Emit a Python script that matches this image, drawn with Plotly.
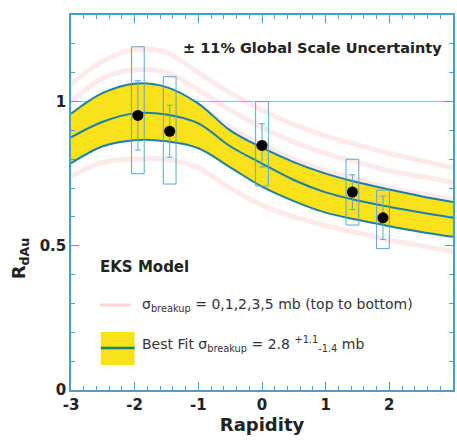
import plotly.graph_objects as go

# ---- data ----
rap = [-1.95, -1.45, 0.0, 1.42, 1.9]
rdau = [0.952, 0.897, 0.848, 0.686, 0.597]
stat_err = [0.12, 0.09, 0.075, 0.06, 0.075]
sys_hi = [1.19, 1.086, 1.0, 0.80, 0.693]
sys_lo = [0.75, 0.714, 0.707, 0.572, 0.49]
box_half = 0.1

band_x = [-3, -2.5, -2, -1.5, -1, -0.5, 0, 0.5, 1, 1.5, 2, 2.5, 3]
band_center = [0.876, 0.93, 0.959, 0.955, 0.924, 0.845, 0.785, 0.728, 0.685, 0.657, 0.635, 0.615, 0.597]
band_upper = [0.958, 1.03, 1.062, 1.05, 0.993, 0.90, 0.84, 0.79, 0.75, 0.72, 0.695, 0.672, 0.652]
band_lower = [0.786, 0.845, 0.866, 0.862, 0.838, 0.772, 0.705, 0.655, 0.615, 0.59, 0.568, 0.548, 0.531]

sigma_labels = ["0 mb", "1 mb", "2 mb", "3 mb", "5 mb"]
sigma_curves = [
    [1.06, 1.14, 1.18, 1.17, 1.10, 1.03, 0.97, 0.92, 0.88, 0.85, 0.82, 0.795, 0.77],
    [1.00, 1.08, 1.11, 1.10, 1.04, 0.97, 0.91, 0.86, 0.82, 0.79, 0.76, 0.74, 0.72],
    [0.94, 1.01, 1.03, 1.02, 0.98, 0.91, 0.85, 0.80, 0.76, 0.73, 0.70, 0.68, 0.66],
    [0.86, 0.92, 0.94, 0.935, 0.90, 0.83, 0.77, 0.72, 0.68, 0.65, 0.63, 0.61, 0.59],
    [0.74, 0.79, 0.80, 0.80, 0.77, 0.70, 0.64, 0.60, 0.57, 0.545, 0.52, 0.50, 0.48],
]

x_ticks = [-3, -2, -1, 0, 1, 2, 3]
x_range = [-3, 3]
y_ticks = [0, 0.5, 1]
y_tick_text = ["0", "0.5", "1"]
y_range = [0, 1.3]

BLUE = "#1d7fa8"
AXBLUE = "#4a9fca"
BOXBLUE = "#5aa8d0"
PINK = "rgba(240,140,140,0.18)"
YELLOW = "#f9e21a"
FONT = "DejaVu Sans"

fig = go.Figure()

# EKS sigma curves (faint)
for lab, cur in zip(sigma_labels, sigma_curves):
    fig.add_trace(go.Scatter(x=band_x, y=cur, mode="lines", line=dict(color=PINK, width=5, shape="spline"),
                             showlegend=False, hoverinfo="skip", name=lab))

# y=1 reference line
fig.add_trace(go.Scatter(x=[x_ticks[0], x_ticks[-1]], y=[1, 1], mode="lines",
                         line=dict(color="#7fbfe0", width=1), showlegend=False, hoverinfo="skip"))

# best fit band
fig.add_trace(go.Scatter(x=band_x, y=band_lower, mode="lines", line=dict(color=BLUE, width=2, shape="spline"),
                         showlegend=False, hoverinfo="skip"))
fig.add_trace(go.Scatter(x=band_x, y=band_upper, mode="lines", line=dict(color=BLUE, width=2, shape="spline"),
                         fill="tonexty", fillcolor=YELLOW, showlegend=False, hoverinfo="skip"))
fig.add_trace(go.Scatter(x=band_x, y=band_center, mode="lines", line=dict(color=BLUE, width=2, shape="spline"),
                         showlegend=False, hoverinfo="skip"))

# systematic boxes
for xi, lo, hi in zip(rap, sys_lo, sys_hi):
    fig.add_trace(go.Scatter(x=[xi - box_half, xi + box_half, xi + box_half, xi - box_half, xi - box_half],
                             y=[lo, lo, hi, hi, lo], mode="lines", line=dict(color=BOXBLUE, width=1),
                             showlegend=False, hoverinfo="skip"))

# data points with stat errors
fig.add_trace(go.Scatter(x=rap, y=rdau, mode="markers",
                         marker=dict(color="black", size=11),
                         error_y=dict(type="data", array=stat_err, color=BOXBLUE, thickness=1, width=3),
                         showlegend=False))

# legend samples (paper coords)
W, H = 457, 443
L, R, T, B = 71, 2, 15, 53
pw, ph = W - L - R, H - T - B


def px(x):
    return (x - L) / pw


def py(y):
    return (H - B - y) / ph


fig.add_shape(type="line", xref="paper", yref="paper", x0=px(100), x1=px(131), y0=py(305), y1=py(305),
              line=dict(color="rgba(240,140,140,0.35)", width=3))
fig.add_shape(type="rect", xref="paper", yref="paper", x0=px(101), x1=px(135), y0=py(365), y1=py(332),
              fillcolor=YELLOW, line=dict(width=0))
fig.add_shape(type="line", xref="paper", yref="paper", x0=px(101), x1=px(135), y0=py(348), y1=py(348),
              line=dict(color="#17866a", width=2.5))

annots = [
    dict(x=px(446), y=py(48), text="<b>± 11% Global Scale Uncertainty</b>", xanchor="right",
         font=dict(size=14.5, color="#222")),
    dict(x=px(98), y=py(267), text="<b>EKS Model</b>", xanchor="left", font=dict(size=15, color="#222")),
    dict(x=px(140), y=py(305), text="σ<sub>breakup</sub> = 0,1,2,3,5 mb (top to bottom)", xanchor="left",
         font=dict(size=14, color="#333")),
    dict(x=px(140), y=py(344), text="Best Fit σ<sub>breakup</sub> = 2.8 <sup>+1.1</sup><sub>-1.4</sub> mb",
         xanchor="left", font=dict(size=14, color="#333")),
    dict(x=px(20), y=py(258), text="<b>R<sub>dAu</sub></b>", textangle=-90, xanchor="center",
         font=dict(size=18, color="#222")),
]
for a in annots:
    a.update(xref="paper", yref="paper", showarrow=False, yanchor="middle")
    fig.add_annotation(**a)

axis_common = dict(showline=True, linecolor=AXBLUE, linewidth=1.5, mirror="ticks", ticks="inside",
                   tickcolor=AXBLUE, ticklen=8, tickwidth=1.2, showgrid=False, zeroline=False,
                   tickfont=dict(family=FONT, size=15, color="#222", weight="bold"))
xminor = dict(dtick=0.2, ticklen=4, ticks="inside", tickcolor=AXBLUE)
yminor = dict(dtick=0.1, ticklen=4, ticks="inside", tickcolor=AXBLUE)

fig.update_layout(
    width=W, height=H,
    margin=dict(l=L, r=R, t=T, b=B),
    paper_bgcolor="white", plot_bgcolor="white",
    font=dict(family=FONT),
    xaxis=dict(range=x_range, tickvals=x_ticks, ticktext=[str(v) for v in x_ticks], minor=xminor,
               title=dict(text="<b>Rapidity</b>", font=dict(size=18, color="#222"), standoff=0),
               **axis_common),
    yaxis=dict(range=y_range, tickvals=y_ticks, ticktext=y_tick_text, minor=yminor, **axis_common),
)

fig.write_html("out.html", config={"displayModeBar": False},
               post_script="document.body.style.margin='0';")
